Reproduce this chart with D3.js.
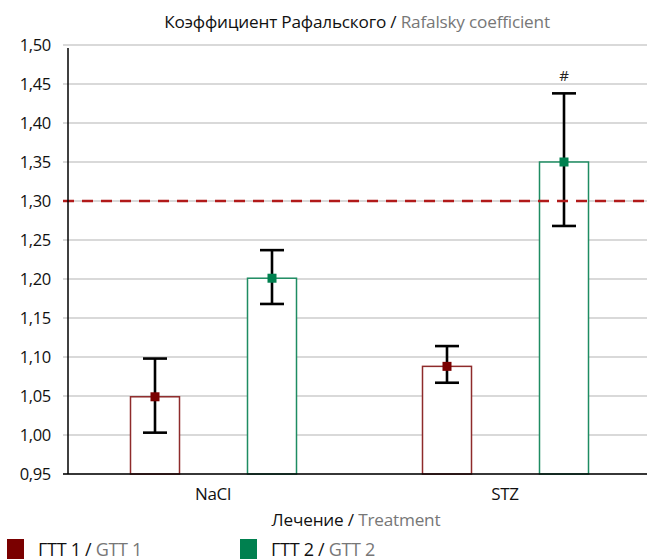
<!DOCTYPE html>
<html>
<head>
<meta charset="utf-8">
<script src="https://cdn.jsdelivr.net/npm/d3@7"></script>
<style>
  body { margin: 0; background: #fff; }
  svg { display: block; font-family: "Open Sans", "Noto Sans", sans-serif; }
</style>
</head>
<body>
<svg id="chart" width="647" height="559"></svg>
<script>
// Rafalsky coefficient by treatment, two glucose tolerance tests
const categories = ["NaCl", "STZ"];
const seriesKeys = ["gtt1", "gtt2"];
const seriesRu = ["ГТТ 1", "ГТТ 2"];
const seriesEn = ["GTT 1", "GTT 2"];
const gtt1Mean = [1.049, 1.088];
const gtt1Low = [1.003, 1.067];
const gtt1High = [1.098, 1.114];
const gtt2Mean = [1.201, 1.350];
const gtt2Low = [1.168, 1.268];
const gtt2High = [1.237, 1.438];
const significance = ["", "#"];
const yTicks = [0.95, 1.00, 1.05, 1.10, 1.15, 1.20, 1.25, 1.30, 1.35, 1.40, 1.45, 1.50];
const threshold = 1.30;

const fill = ["#7a0000", "#00804f"];
const outline = ["#8e2b2b", "#1e8c62"];

const svg = d3.select("#chart");
const m = { left: 68, top: 45, bottom: 85 };
const W = 647, H = 559;

const x = d3.scaleBand().domain(categories).range([m.left, m.left + 584]);
const y = d3.scaleLinear().domain([0.95, 1.50]).range([H - m.bottom, m.top]);

// bar centres inside each treatment group
const sub = d3.scalePoint().domain(seriesKeys).range([87, 204]);
const barW = 49;

// grid
svg.append("g").selectAll("line").data(yTicks).join("line")
  .attr("x1", 63).attr("x2", W)
  .attr("y1", d => y(d)).attr("y2", d => y(d))
  .attr("stroke", "#b4b4b4").attr("stroke-width", 1.2);

// y tick labels
svg.append("g").selectAll("text").data(yTicks).join("text")
  .attr("x", 51).attr("y", d => y(d)).attr("dy", "0.36em")
  .attr("text-anchor", "end").attr("font-size", 16.5).attr("fill", "#111")
  .attr("letter-spacing", "-0.3")
  .text(d => d3.format(".2f")(d).replace(".", ","));

const rows = categories.map((c, i) => ({
  cat: c,
  vals: [
    { key: "gtt1", s: 0, mean: gtt1Mean[i], lo: gtt1Low[i], hi: gtt1High[i], sig: "" },
    { key: "gtt2", s: 1, mean: gtt2Mean[i], lo: gtt2Low[i], hi: gtt2High[i], sig: significance[i] }
  ]
}));

const cx = (r, v) => x(r.cat) + sub(v.key);

const groups = svg.append("g").selectAll("g").data(rows).join("g");

// bars
groups.selectAll("rect.bar").data(r => r.vals.map(v => ({ r, v }))).join("rect")
  .attr("class", "bar")
  .attr("x", d => cx(d.r, d.v) - barW / 2)
  .attr("y", d => y(d.v.mean))
  .attr("width", barW)
  .attr("height", d => y(0.95) - y(d.v.mean))
  .attr("fill", "#fff")
  .attr("stroke", d => outline[d.v.s]).attr("stroke-width", 1.5);

// threshold line
svg.append("line")
  .attr("x1", 63).attr("x2", W)
  .attr("y1", y(threshold)).attr("y2", y(threshold))
  .attr("stroke", "#b11a1a").attr("stroke-width", 2.6)
  .attr("stroke-dasharray", "11,8");

// axes lines
svg.append("line").attr("x1", m.left).attr("x2", m.left)
  .attr("y1", y(1.50) + 3).attr("y2", y(0.95))
  .attr("stroke", "#000").attr("stroke-width", 1.5);
svg.append("line").attr("x1", 63).attr("x2", W)
  .attr("y1", y(0.95)).attr("y2", y(0.95))
  .attr("stroke", "#000").attr("stroke-width", 1.5);

// error bars
const eb = groups.selectAll("g.err").data(r => r.vals.map(v => ({ r, v }))).join("g").attr("class", "err");
eb.append("line")
  .attr("x1", d => cx(d.r, d.v)).attr("x2", d => cx(d.r, d.v))
  .attr("y1", d => y(d.v.lo)).attr("y2", d => y(d.v.hi))
  .attr("stroke", "#000").attr("stroke-width", 2.6);
["lo", "hi"].forEach(k => {
  eb.append("line")
    .attr("x1", d => cx(d.r, d.v) - 12).attr("x2", d => cx(d.r, d.v) + 12)
    .attr("y1", d => y(d.v[k])).attr("y2", d => y(d.v[k]))
    .attr("stroke", "#000").attr("stroke-width", 2.6);
});
eb.append("rect")
  .attr("x", d => cx(d.r, d.v) - 4.5).attr("y", d => y(d.v.mean) - 4.5)
  .attr("width", 9).attr("height", 9)
  .attr("fill", d => fill[d.v.s]);
eb.filter(d => d.v.sig).append("text")
  .attr("x", d => cx(d.r, d.v)).attr("y", d => y(d.v.hi) - 12)
  .attr("text-anchor", "middle").attr("font-size", 15).attr("fill", "#222")
  .text(d => d.v.sig);

// category labels
svg.append("g").selectAll("text").data(categories).join("text")
  .attr("x", d => x(d) + x.bandwidth() / 2 - 1).attr("y", 500)
  .attr("text-anchor", "middle").attr("font-size", 17).attr("fill", "#111")
  .attr("letter-spacing", "-0.3")
  .text(d => d);

// two-tone text helper
function twoTone(sel, ru, en) {
  sel.append("tspan").attr("fill", "#111").text(ru + " / ");
  sel.append("tspan").attr("fill", "#777").text(en);
}

twoTone(svg.append("text").attr("x", 357).attr("y", 28).attr("text-anchor", "middle")
  .attr("font-size", 17.2).attr("letter-spacing", "-0.2"),
  "Коэффициент Рафальского", "Rafalsky coefficient");
twoTone(svg.append("text").attr("x", 356).attr("y", 526).attr("text-anchor", "middle")
  .attr("font-size", 17.2).attr("letter-spacing", "-0.2"),
  "Лечение", "Treatment");

// legend
const legX = [7, 240];
seriesKeys.forEach((k, i) => {
  svg.append("rect").attr("x", legX[i]).attr("y", 539).attr("width", 17).attr("height", 20).attr("fill", fill[i]);
  twoTone(svg.append("text").attr("x", legX[i] + 31).attr("y", 556)
    .attr("font-size", 18).attr("letter-spacing", "-0.3"), seriesRu[i], seriesEn[i]);
});
</script>
</body>
</html>
